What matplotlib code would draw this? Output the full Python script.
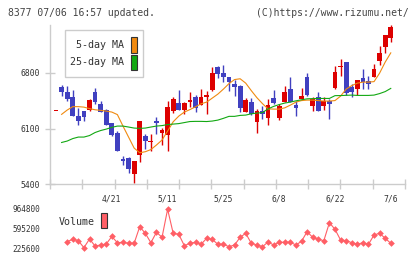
import numpy as np
import matplotlib
matplotlib.use("Agg")
import matplotlib.pyplot as plt
from matplotlib.patches import Rectangle

plt.rcParams['font.family'] = ['DejaVu Sans Mono']

# daily prices (61 trading days)
opens = [6315, 6616, 6557, 6495, 6256, 6319, 6336, 6554, 6407, 6328,
         6165, 6043, 5721, 5734, 5533, 5767, 6006, 5927, 6198, 6047,
         6018, 6323, 6423, 6336, 6432, 6495, 6398, 6498, 6586, 6871,
         6796, 6746, 6658, 6633, 6310, 6436, 6185, 6319, 6235, 6482,
         6235, 6436, 6595, 6394, 6466, 6746, 6386, 6495, 6386, 6445,
         6608, 6871, 6934, 6620, 6599, 6733, 6695, 6749, 6946, 7126, 7243]
highs = [6315, 6645, 6633, 6583, 6357, 6319, 6473, 6608, 6445, 6344,
         6173, 6065, 5755, 5746, 5692, 6194, 6031, 6031, 6240, 6110,
         6445, 6499, 6579, 6436, 6554, 6520, 6595, 6570, 6871, 6887,
         6896, 6746, 6712, 6645, 6482, 6486, 6344, 6386, 6470, 6583,
         6403, 6633, 6742, 6448, 6604, 6796, 6499, 6557, 6491, 6473,
         6883, 6971, 6934, 6654, 6708, 6846, 6758, 6909, 7134, 7272, 7398]
lows = [6315, 6511, 6444, 6256, 6144, 6198, 6319, 6411, 6303, 6140,
        6006, 5814, 5646, 5538, 5420, 5683, 5843, 5821, 6035, 5889,
        5821, 6298, 6336, 6278, 6369, 6303, 6398, 6285, 6570, 6733,
        6687, 6570, 6511, 6303, 6310, 6269, 6047, 6223, 6144, 6403,
        6210, 6436, 6436, 6256, 6466, 6507, 6323, 6323, 6336, 6223,
        6595, 6762, 6516, 6499, 6516, 6595, 6595, 6749, 6896, 7046, 7188]
closes = [6315, 6561, 6466, 6260, 6198, 6248, 6453, 6436, 6303, 6140,
          6022, 5814, 5696, 5592, 5692, 6194, 5947, 5947, 6172, 6085,
          6373, 6470, 6336, 6423, 6457, 6353, 6495, 6520, 6796, 6783,
          6746, 6687, 6620, 6361, 6461, 6278, 6319, 6285, 6394, 6423,
          6382, 6557, 6436, 6361, 6507, 6520, 6470, 6323, 6448, 6411,
          6804, 6887, 6541, 6561, 6708, 6683, 6662, 6846, 7046, 7272, 7376]

ma5 = [np.nan, 6278, 6332, 6375, 6375, 6369, 6350, 6336, 6328, 6319,
       6307, 6275, 6131, 5993, 5855, 5796, 5809, 5836, 5893, 5956,
       6068, 6185, 6256, 6307, 6338, 6373, 6411, 6432, 6482, 6532,
       6595, 6664, 6715, 6725, 6670, 6576, 6488, 6413, 6347, 6344,
       6344, 6360, 6394, 6432, 6451, 6457, 6457, 6451, 6445, 6445,
       6451, 6507, 6595, 6639, 6670, 6683, 6683, 6689, 6796, 6934, 7050]
ma25 = [np.nan, 5925, 5943, 5974, 5993, 5993, 6012, 6050, 6075, 6093,
        6115, 6131, 6131, 6119, 6106, 6102, 6106, 6119, 6131, 6137,
        6150, 6156, 6162, 6175, 6188, 6190, 6190, 6188, 6194, 6206,
        6228, 6253, 6253, 6265, 6269, 6285, 6294, 6300, 6347, 6378,
        6401, 6420, 6432, 6448, 6461, 6473, 6476, 6478, 6478, 6478,
        6513, 6514, 6517, 6520, 6516, 6516, 6516, 6520, 6539, 6564, 6604]

volume = [np.nan, np.nan, 349400, 394400, 368200, 236900, 400100, 268700, 287500, 306300,
          447000, 330700, 338200, 319400, 319400, 630800, 507000, 330700, 525800, 432000,
          957200, 507000, 488200, 274400, 319400, 338200, 300600, 413200, 394400, 300600,
          300600, 255600, 287500, 432000, 507000, 319400, 287500, 255600, 343800, 287500,
          338200, 338200, 338200, 287500, 356900, 537000, 432000, 394400, 368200, 705900,
          582000, 381300, 368200, 330700, 300600, 330700, 300600, 475100, 507000, 413200, 319400]

date_idx = [10, 20, 30, 40, 50, 60]
date_labels = ["4/21", "5/11", "5/25", "6/8", "6/22", "7/6"]
price_ticks = [5400, 6100, 6800]
vol_ticks = [225600, 595200, 964800]

W, H = 420, 259
RED = "#dd0000"
BLUE = "#4040c0"
ORANGE = "#f08a10"
GREEN = "#12a812"
VOLC = "#ff5f66"
GRAY = "#cccccc"
TXT = "#333333"

fig = plt.figure(figsize=(W / 100, H / 100), dpi=100)


def px_axes(x0, y0, x1, y1):
    return fig.add_axes([x0 / W, 1 - y1 / H, (x1 - x0) / W, (y1 - y0) / H])


xs = np.arange(len(closes))
xlim = (-1.08, 62.55)

# ---- price panel ----
ax = px_axes(50, 25, 405, 184.3)
o = np.array(opens); c = np.array(closes)
up = c >= o
colors = np.where(up, RED, BLUE)
ax.vlines(xs, lows, highs, colors=colors, linewidth=1, zorder=2)
body = np.maximum(np.abs(c - o), 14)
ax.bar(xs, body, bottom=np.minimum(o, c), width=0.85, color=colors, linewidth=0, zorder=3)
ax.plot(xs, ma5, color=ORANGE, linewidth=0.8, zorder=4)
ax.plot(xs, ma25, color=GREEN, linewidth=0.8, zorder=4)

ax.set_xlim(*xlim)
ax.set_ylim(5400, 7400)
for s in ["top", "right"]:
    ax.spines[s].set_visible(False)
for s in ["left", "bottom"]:
    ax.spines[s].set_color(GRAY)
    ax.spines[s].set_linewidth(1)
ax.set_yticks(price_ticks)
ax.set_yticklabels([str(t) for t in price_ticks])
ax.tick_params(axis="y", direction="inout", length=7, width=1, color=GRAY,
               labelsize=5.8, labelcolor=TXT, pad=4)
ax.set_xticks(date_idx)
ax.set_xticklabels(date_labels)
ax.tick_params(axis="x", which="major", length=0, labelsize=5.8, labelcolor=TXT, pad=7)
ax.set_xticks(np.linspace(xlim[0], xlim[1], 12), minor=True)
ax.tick_params(axis="x", which="minor", direction="inout", length=7, width=1, color=GRAY)
ax.patch.set_alpha(0)

# ---- volume panel ----
av = px_axes(50, 205, 405, 252)
av.plot(xs, volume, color=VOLC, linewidth=0.8, marker="D", markersize=3.4,
        markeredgewidth=0, markerfacecolor=VOLC)
av.set_xlim(*xlim)
av.set_ylim(156200, 1037900)
for s in av.spines.values():
    s.set_visible(False)
av.set_xticks([])
av.set_yticks(vol_ticks)
av.set_yticklabels([str(t) for t in vol_ticks])
av.tick_params(axis="y", length=0, labelsize=5.6, labelcolor=TXT, pad=7)
av.patch.set_alpha(0)

# ---- legends and header ----
fig.patches.append(Rectangle((65 / W, 1 - 77 / H), 78 / W, 47 / H, transform=fig.transFigure,
                             facecolor="white", edgecolor=GRAY, linewidth=1, zorder=5))
for y0, y1, col, lab in [(37.3, 53, ORANGE, "5-day MA"), (54.7, 70, GREEN, "25-day MA")]:
    fig.patches.append(Rectangle((131 / W, 1 - y1 / H), 6 / W, (y1 - y0) / H,
                                 transform=fig.transFigure, facecolor=col,
                                 edgecolor="#333333", linewidth=0.8, zorder=6))
    fig.text(124.5 / W, 1 - (y0 + y1) / 2 / H, lab, ha="right", va="center",
             fontsize=7.2, color=TXT, zorder=6)

fig.patches.append(Rectangle((101 / W, 1 - 228.3 / H), 6.5 / W, 15 / H, transform=fig.transFigure,
                             facecolor=VOLC, edgecolor="#333333", linewidth=0.8, zorder=6))
fig.text(58.5 / W, 1 - 222 / H, "Volume", ha="left", va="center", fontsize=7.2, color=TXT)

fig.text(8 / W, 1 - 12.5 / H, "8377 07/06 16:57 updated.", ha="left", va="center",
         fontsize=7.0, color="#444444")
fig.text(409 / W, 1 - 12.5 / H, "(C)https://www.rizumu.net/", ha="right", va="center",
         fontsize=7.0, color="#444444")

fig.savefig("out.png", dpi=100, facecolor="white")
